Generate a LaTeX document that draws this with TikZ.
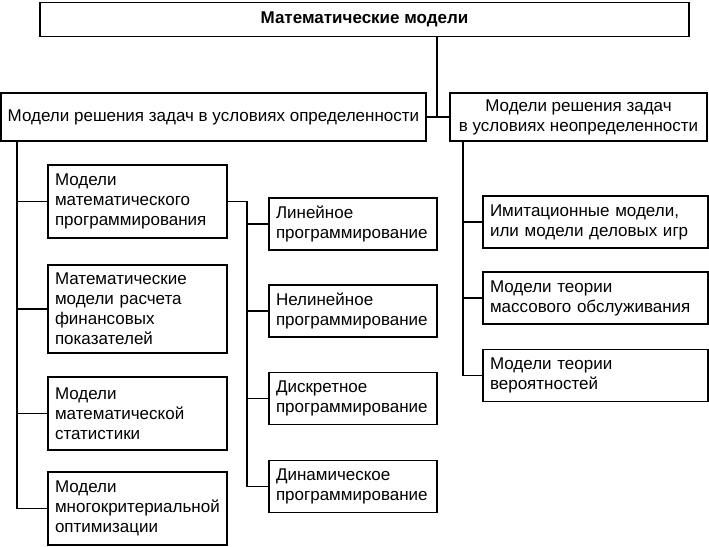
\documentclass[tikz,border=0pt]{standalone}
\usepackage{fontspec}
\setmainfont{Liberation Sans}
\begin{document}
\begin{tikzpicture}[x=1pt,y=-1pt,
  box/.style={draw, line width=1.7pt, inner xsep=7pt, inner ysep=0pt, font=\fontsize{17}{20}\selectfont},
  link/.style={line width=1.6pt}
]
\useasboundingbox (0,0) rectangle (709,546);
% top
\node[box, minimum width=649pt, minimum height=34pt, font=\bfseries\fontsize{17}{20}\selectfont] (top) at (364.5,19.5) {Математические модели};
% level 2
\node[box, minimum width=423pt, minimum height=48pt] (L) at (213.5,117) {Модели решения задач в условиях определенности};
\node[box, minimum width=257pt, minimum height=48pt, align=center] (R) at (578.5,117) {Модели решения задач\\в условиях неопределенности};
% left column
\node[box, minimum height=73pt, text width=165pt, align=left] (b1) at (137.5,201.5) {Модели\\математического\\программирования};
\node[box, minimum height=88pt, text width=165pt, align=left] (b2) at (137.5,309) {Математические\\модели расчета\\финансовых\\показателей};
\node[box, minimum height=73pt, text width=165pt, align=left] (b3) at (137.5,413.5) {Модели\\математической\\статистики};
\node[box, minimum height=73pt, text width=165pt, align=left] (b4) at (137.5,508.5) {Модели\\многокритериальной\\оптимизации};
% programming column
\node[box, minimum height=52pt, text width=154pt, align=left] (p1) at (353,224) {Линейное\\программирование};
\node[box, minimum height=52pt, text width=154pt, align=left] (p2) at (353,311) {Нелинейное\\программирование};
\node[box, minimum height=52pt, text width=154pt, align=left] (p3) at (353,398.5) {Дискретное\\программирование};
\node[box, minimum height=52pt, text width=154pt, align=left] (p4) at (353,486.5) {Динамическое\\программирование};
% right column
\node[box, minimum height=52pt, text width=211pt, align=left] (r1) at (595.5,222) {Имитационные модели,\\или модели деловых игр};
\node[box, minimum height=52pt, text width=211pt, align=left] (r2) at (595.5,298) {Модели теории\\массового обслуживания};
\node[box, minimum height=52pt, text width=211pt, align=left] (r3) at (595.5,375.5) {Модели теории\\вероятностей};
% trunk coordinates
\coordinate (tl) at (17,0);
\coordinate (tp) at (247,0);
\coordinate (tr) at (463,0);
% connectors
\draw[link] (top.south -| 437,0) -- (437,117);
\draw[link] (L.east) -- (R.west);
\draw[link] (L.south -| tl) -- (tl |- b4.west) -- (b4.west);
\draw[link] (tl |- b1.west) -- (b1.west);
\draw[link] (tl |- b2.west) -- (b2.west);
\draw[link] (tl |- b3.west) -- (b3.west);
\draw[link] (b1.east) -- (tp |- b1.east) -- (tp |- p4.west) -- (p4.west);
\draw[link] (tp |- p1.west) -- (p1.west);
\draw[link] (tp |- p2.west) -- (p2.west);
\draw[link] (tp |- p3.west) -- (p3.west);
\draw[link] (R.south -| tr) -- (tr |- r3.west) -- (r3.west);
\draw[link] (tr |- r1.west) -- (r1.west);
\draw[link] (tr |- r2.west) -- (r2.west);
\end{tikzpicture}
\end{document}
